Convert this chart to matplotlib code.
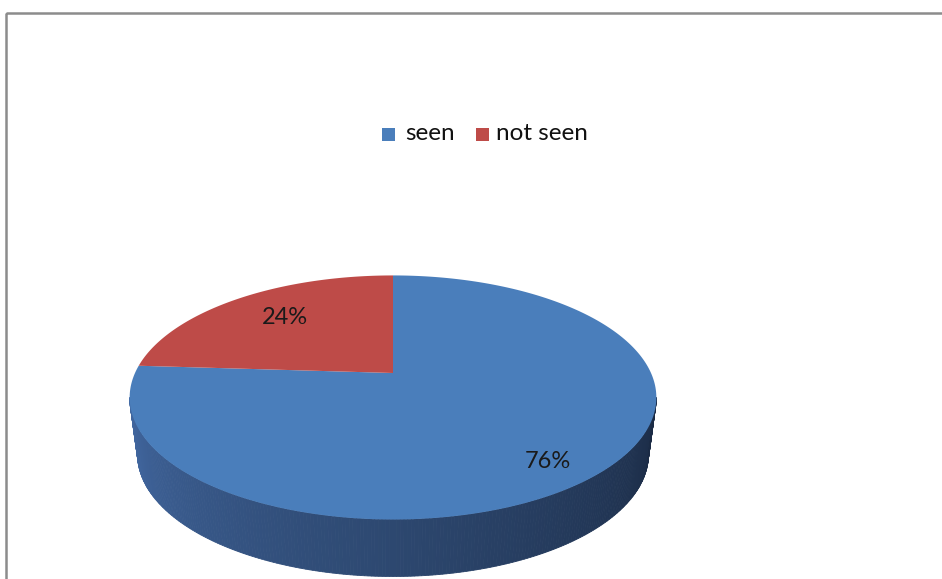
import numpy as np
import matplotlib.pyplot as plt
from matplotlib.patches import Polygon, Rectangle

labels = ['seen', 'not seen']
shares = [76, 24]
colors = ['#4a7ebb', '#be4b48']

# 3D pie: perspective projection of the top face, side wall below it
W, H = 942, 579
cx, cy = 393, 373          # screen position of the disc centre
F = 258.0                  # projected radius scale (px)
elev = np.radians(27)
k = 0.225                  # radius / camera distance
depth_px = 57              # thickness of the side wall on screen
shrink = 0.97              # lower rim is slightly narrower
s, c = np.sin(elev), np.cos(elev)


def proj(theta):
    # theta: angle on the disc (90 = far side)
    denom = 1 + k * np.sin(theta) * c
    u = F * np.cos(theta) / denom
    v = F * np.sin(theta) * s / denom
    return cx + u, cy - v


def proj_low(theta):
    x, y = proj(theta)
    return cx + (x - cx) * shrink, y + depth_px


fig = plt.figure(figsize=(W / 100, H / 100), dpi=100)
ax = fig.add_axes([0, 0, 1, 1])
ax.set_xlim(0, W)
ax.set_ylim(H, 0)
ax.axis('off')

# chart frame
ax.add_patch(Rectangle((6, 13), W + 20, H + 20, fill=False,
                       edgecolor='#8c8c8c', linewidth=1.8))

# slice angles: clockwise from 12 o'clock
fracs = np.array(shares) / sum(shares)
starts = np.pi / 2 - np.concatenate([[0], np.cumsum(fracs)[:-1]]) * 2 * np.pi
ends = starts - fracs * 2 * np.pi

# side wall between the two silhouette points, darker to the right
t_left = np.pi + np.arcsin(k * c)
t_right = 2 * np.pi - np.arcsin(k * c)
n = 240
th = np.linspace(t_left, t_right, n + 1)
light = np.array([0x44, 0x6b, 0xa6]) / 255
mid = np.array([0x2d, 0x48, 0x70]) / 255
dark = np.array([0x1b, 0x2b, 0x45]) / 255
for i in range(n):
    t0, t1 = th[i], th[i + 1]
    f = i / n
    if f < 0.5:
        col = light + (mid - light) * (f / 0.5) ** 0.8
    else:
        col = mid + (dark - mid) * ((f - 0.5) / 0.5) ** 0.9
    pts = [proj(t0), proj(t1), proj_low(t1), proj_low(t0)]
    ax.add_patch(Polygon(pts, closed=True, facecolor=col, edgecolor=col,
                         linewidth=0.6))

# top faces
for st, en, col in zip(starts, ends, colors):
    tt = np.linspace(st, en, 300)
    xs, ys = proj(tt)
    pts = [(cx, cy)] + list(zip(xs, ys))
    ax.add_patch(Polygon(pts, closed=True, facecolor=col, edgecolor='none'))

# percentage labels
label_pos = [(548, 462), (285, 317)]
for (lx, ly), p in zip(label_pos, shares):
    ax.text(lx, ly, f'{p}%', ha='center', va='center', fontsize=17,
            family='Lato', color='#1a1a1a')

# legend
ax.add_patch(Rectangle((382, 128), 13, 13, facecolor=colors[0]))
ax.text(405, 134, labels[0], ha='left', va='center', fontsize=17.5,
        family='Lato', color='#111111')
ax.add_patch(Rectangle((476, 128), 13, 13, facecolor=colors[1]))
ax.text(496, 134, labels[1], ha='left', va='center', fontsize=17.5,
        family='Lato', color='#111111')

fig.savefig('out.png', dpi=100)
